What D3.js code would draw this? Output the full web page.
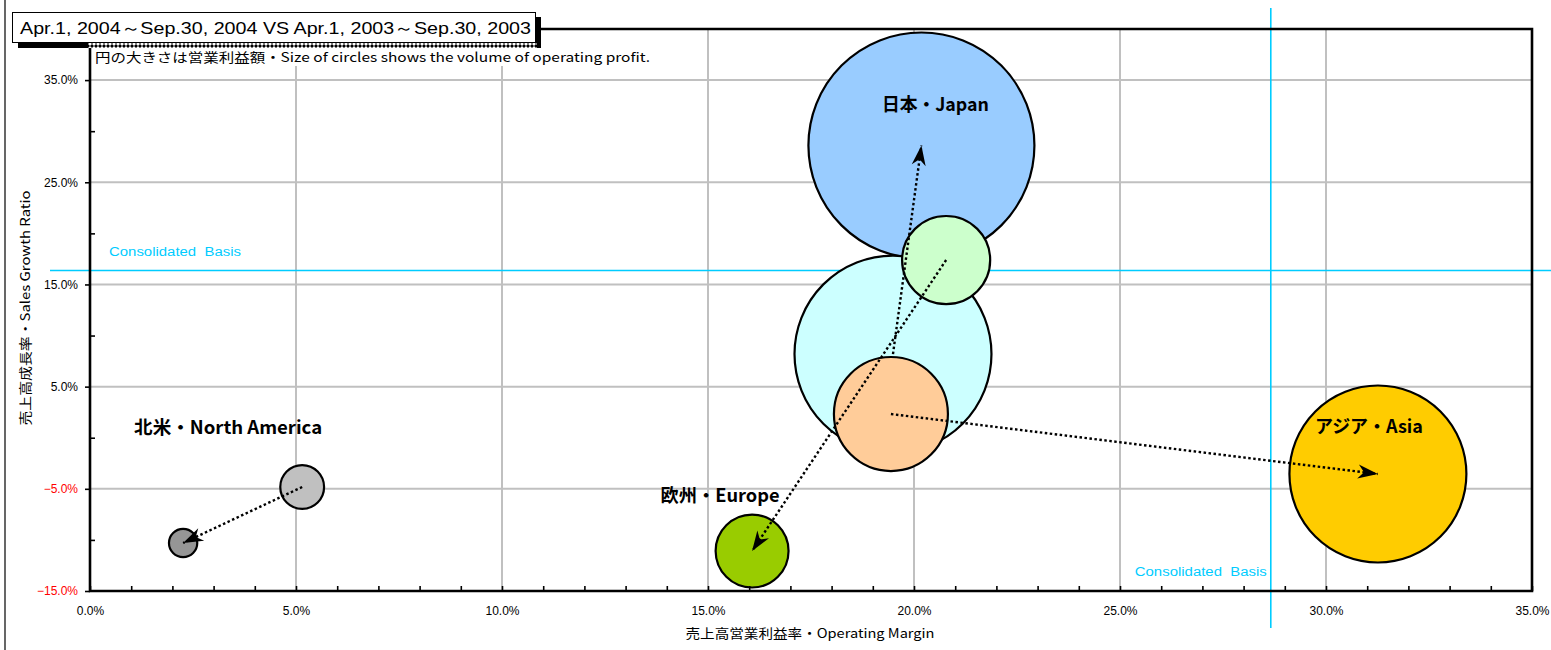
<!DOCTYPE html>
<html><head><meta charset="utf-8">
<script src="https://cdn.jsdelivr.net/npm/d3@7"></script>
<style>body{margin:0;background:#fff} svg{display:block} text{white-space:pre}</style>
</head><body><svg id="c" width="1551" height="650"></svg>
<script>
// ---- data ----
const regions = ["Japan", "Asia", "Europe", "NorthAmerica"];
const regionLabels = ["日本・Japan", "アジア・Asia", "欧州・Europe", "北米・North America"];
// current period: Apr.1 2004 - Sep.30 2004
const marginCurrent = [20.18, 31.26, 16.07, 2.26];
const growthCurrent = [28.6, -3.55, -11.09, -10.3];
const profitCurrent = [127.7, 78.3, 13.3, 2.0];
// previous period: Apr.1 2003 - Sep.30 2003
const marginPrev = [19.49, 19.44, 20.78, 5.15];
const growthPrev = [8.19, 2.32, 17.39, -4.82];
const profitPrev = [97.0, 32.5, 19.4, 4.8];
const colorCurrent = ["#99CCFF", "#FFCC00", "#99CC00", "#969696"];
const colorPrev = ["#CCFFFF", "#FFCC99", "#CCFFCC", "#C0C0C0"];
const xTicks = [0, 5, 10, 15, 20, 25, 30, 35];
const yTicks = [-15, -5, 5, 15, 25, 35];
const consolidatedMargin = 28.66;
const consolidatedGrowth = 16.37;
const titleText = "Apr.1, 2004～Sep.30, 2004 VS Apr.1, 2003～Sep.30, 2003";
const subtitleText = "円の大きさは営業利益額・Size of circles shows the volume of operating profit.";
const xTitle = "売上高営業利益率・Operating Margin";
const yTitle = "売上高成長率・Sales Growth Ratio";
const basisText = "Consolidated  Basis";

// ---- layout ----
const L = 90, R = 1532, T = 29, B = 591;
const labelOffset = {Japan: [14, -42], Asia: [-9, -49], Europe: [-32, -57], NorthAmerica: [45, -117]};
const labelWidth = {Japan: 107, Asia: 108, Europe: 119, NorthAmerica: 188};
const svg = d3.select("#c");
const x = d3.scaleLinear().domain([0, 35]).range([L, R]);
const y = d3.scaleLinear().domain([-15, 40]).range([B, T]);
const r = d3.scaleSqrt().domain([0, 127.7]).range([0, 113]);
const latin = "'Liberation Sans', Arial, sans-serif";
const cjk = "'Noto Sans CJK JP', 'Liberation Sans', sans-serif";

svg.append("rect").attr("width", 1551).attr("height", 650).attr("fill", "#fff");
svg.append("line").attr("x1", 5).attr("x2", 5).attr("y1", 0).attr("y2", 650)
  .attr("stroke", "#000").attr("stroke-width", 1.2);

// defs
const defs = svg.append("defs");
const pat = defs.append("pattern").attr("id", "chk").attr("patternUnits", "userSpaceOnUse")
  .attr("width", 4).attr("height", 4);
pat.append("rect").attr("width", 4).attr("height", 4).attr("fill", "#fff");
pat.append("path").attr("d", "M0,0L2,2L0,4ZM4,0L2,2L4,4Z").attr("fill", "#000");
defs.append("marker").attr("id", "ah").attr("markerUnits", "userSpaceOnUse")
  .attr("viewBox", "-21 -8 22 16").attr("markerWidth", 22).attr("markerHeight", 16)
  .attr("refX", 0).attr("refY", 0).attr("orient", "auto")
  .append("path").attr("d", "M0,0L-20,-7L-14,0L-20,7Z").attr("fill", "#000");

// gridlines
const g = svg.append("g");
g.selectAll(".gy").data(yTicks.filter(d => d > -15)).join("line")
  .attr("x1", L).attr("x2", R).attr("y1", d => y(d)).attr("y2", d => y(d))
  .attr("stroke", "#c0c0c0").attr("stroke-width", 2);
g.selectAll(".gx").data(xTicks.filter(d => d > 0 && d < 35)).join("line")
  .attr("y1", T).attr("y2", B).attr("x1", d => x(d)).attr("x2", d => x(d))
  .attr("stroke", "#c0c0c0").attr("stroke-width", 2);

// consolidated basis lines
svg.append("line").attr("x1", 50).attr("x2", 1551)
  .attr("y1", y(consolidatedGrowth)).attr("y2", y(consolidatedGrowth))
  .attr("stroke", "#00CCFF").attr("stroke-width", 1.6);
svg.append("line").attr("y1", 8).attr("y2", 628)
  .attr("x1", x(consolidatedMargin)).attr("x2", x(consolidatedMargin))
  .attr("stroke", "#00CCFF").attr("stroke-width", 1.6);
svg.append("text").attr("x", 109).attr("y", y(consolidatedGrowth) - 14)
  .attr("font-family", latin).attr("font-size", 12.5).attr("fill", "#00CCFF")
  .attr("textLength", 132).attr("lengthAdjust", "spacingAndGlyphs").text(basisText);
svg.append("text").attr("x", x(consolidatedMargin) - 136).attr("y", 576)
  .attr("font-family", latin).attr("font-size", 12.5).attr("fill", "#00CCFF")
  .attr("textLength", 132).attr("lengthAdjust", "spacingAndGlyphs").text(basisText);

// bubbles
const bubbles = [];
regions.forEach((k, i) => {
  bubbles.push({k, m: marginCurrent[i], gr: growthCurrent[i], p: profitCurrent[i], c: colorCurrent[i]});
  bubbles.push({k, m: marginPrev[i], gr: growthPrev[i], p: profitPrev[i], c: colorPrev[i]});
});
bubbles.sort((a, b) => b.p - a.p);
svg.append("g").selectAll("circle").data(bubbles).join("circle")
  .attr("cx", d => x(d.m)).attr("cy", d => y(d.gr)).attr("r", d => r(d.p))
  .attr("fill", d => d.c).attr("stroke", "#000").attr("stroke-width", 2.2);

// arrows
svg.append("g").selectAll("line").data(regions).join("line")
  .attr("x1", (d, i) => x(marginPrev[i])).attr("y1", (d, i) => y(growthPrev[i]))
  .attr("x2", (d, i) => x(marginCurrent[i])).attr("y2", (d, i) => y(growthCurrent[i]))
  .attr("stroke", "#000").attr("stroke-width", 2.4).attr("stroke-dasharray", "2.5,2.5")
  .attr("marker-end", "url(#ah)");

// region labels
svg.append("g").selectAll("text").data(regions).join("text")
  .attr("x", (d, i) => x(marginCurrent[i]) + labelOffset[d][0] - labelWidth[d] / 2)
  .attr("y", (d, i) => y(growthCurrent[i]) + labelOffset[d][1])
  .attr("dominant-baseline", "central")
  .attr("font-family", cjk).attr("font-weight", "bold").attr("font-size", 18)
  .attr("textLength", d => labelWidth[d]).attr("lengthAdjust", "spacingAndGlyphs")
  .text((d, i) => regionLabels[i]);

// subtitle box
svg.append("rect").attr("x", 88).attr("y", 44).attr("width", 568).attr("height", 22).attr("fill", "#fff");
svg.append("text").attr("x", 95).attr("y", 62).attr("font-family", cjk).attr("font-size", 13)
  .attr("textLength", 555).attr("lengthAdjust", "spacingAndGlyphs").text(subtitleText);

// axes
const axG = svg.append("g");
const xMinor = d3.axisBottom(x).tickValues(d3.range(0, 36, 1)).tickSize(-5).tickFormat("");
const xMajor = d3.axisBottom(x).tickValues(xTicks).tickSize(0).tickPadding(15).tickFormat(d => d3.format(".1f")(d) + "%");
const yMinor = d3.axisLeft(y).tickValues(d3.range(-10, 40, 10)).tickSize(-5).tickFormat("");
const yMajor = d3.axisLeft(y).tickValues(yTicks).tickSize(5).tickPadding(7).tickFormat(d => d3.format(".1f")(d) + "%");
[[xMinor, "b"], [xMajor, "b"], [yMinor, "l"], [yMajor, "l"]].forEach(([ax, s]) => {
  const a = axG.append("g").attr("transform", s === "b" ? `translate(0,${B})` : `translate(${L},0)`).call(ax);
  a.select(".domain").remove();
  a.selectAll(".tick line").attr("stroke", "#000").attr("stroke-width", 1.6);
  a.selectAll("text").attr("font-family", latin).attr("font-size", 12).attr("fill", d => d < 0 ? "#FF0000" : "#000");
});
// frame
svg.append("path").attr("d", `M${L},${T}V${B}H${R}V${T}H${L}`).attr("fill", "none")
  .attr("stroke", "#000").attr("stroke-width", 2.6);

// axis titles
svg.append("text").attr("x", 810).attr("y", 638).attr("text-anchor", "middle")
  .attr("font-family", cjk).attr("font-size", 13).attr("textLength", 249).attr("lengthAdjust", "spacingAndGlyphs").text(xTitle);
svg.append("text").attr("transform", "translate(30,308) rotate(-90)").attr("text-anchor", "middle")
  .attr("font-family", cjk).attr("font-size", 13).attr("textLength", 235).attr("lengthAdjust", "spacingAndGlyphs").text(yTitle);

// title box with shadow
svg.append("rect").attr("x", 18).attr("y", 17).attr("width", 523).attr("height", 31).attr("fill", "#000");
svg.append("rect").attr("x", 88).attr("y", 43).attr("width", 449).attr("height", 5).attr("fill", "url(#chk)");
svg.append("rect").attr("x", 12.5).attr("y", 12.5).attr("width", 523).attr("height", 30)
  .attr("fill", "#fff").attr("stroke", "#000").attr("stroke-width", 1);
svg.append("text").attr("x", 20).attr("y", 34).attr("font-family", latin).attr("font-size", 17)
  .attr("textLength", 511).attr("lengthAdjust", "spacingAndGlyphs").text(titleText);
</script></body></html>
